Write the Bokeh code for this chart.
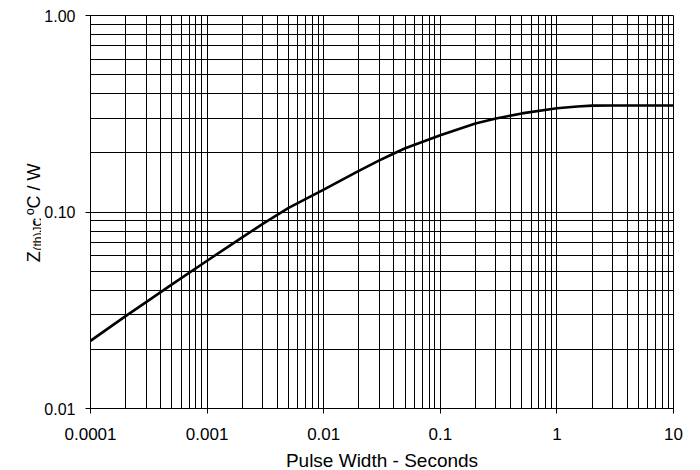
import math
from bokeh.plotting import figure
from bokeh.layouts import row
from bokeh.models import FixedTicker, Label, Range1d
from bokeh.embed import file_html
from bokeh.resources import INLINE

# Data
pulse_width = [1e-4, 2e-4, 3e-4, 5e-4, 1e-3, 2e-3, 3e-3, 5e-3, 1e-2, 2e-2, 3e-2,
               4e-2, 5e-2, 0.1, 0.2, 0.3, 0.5, 1.0, 1.5, 2.0, 3.0, 10.0]
zth_jc = [0.0221, 0.0295, 0.0348, 0.0428, 0.0565, 0.0743, 0.0870, 0.1050, 0.1300, 0.1620, 0.1830,
          0.1985, 0.2110, 0.2460, 0.2820, 0.2990, 0.3175, 0.3370, 0.3445, 0.3480, 0.3485, 0.3485]

x_major = [1e-4, 1e-3, 1e-2, 1e-1, 1.0, 10.0]
x_major_labels = ["0.0001", "0.001", "0.01", "0.1", "1", "10"]
y_major = [0.01, 0.1, 1.0]
y_major_labels = ["0.01", "0.10", "1.00"]

x_minor = [m * d for d in x_major[:-1] for m in range(2, 10)]
y_minor = [m * d for d in y_major[:-1] for m in range(2, 10)]

FONT = "Liberation Sans"
BORDER_TOP = 15
BORDER_BOTTOM = 57
FRAME_H = 393
TITLE_W = 41

p = figure(x_axis_type="log", y_axis_type="log",
           x_range=(1e-4, 10), y_range=(0.01, 1.0),
           frame_width=583, frame_height=FRAME_H,
           min_border_left=47, min_border_right=20,
           min_border_top=BORDER_TOP, min_border_bottom=BORDER_BOTTOM,
           output_backend="svg", toolbar_location=None)

p.background_fill_color = "white"
p.border_fill_color = "white"
p.outline_line_color = "black"
p.outline_line_width = 1

p.xaxis.ticker = FixedTicker(ticks=x_major, minor_ticks=x_minor)
p.yaxis.ticker = FixedTicker(ticks=y_major, minor_ticks=y_minor)
p.xaxis.major_label_overrides = {v: s for v, s in zip(x_major, x_major_labels)}
p.yaxis.major_label_overrides = {v: s for v, s in zip(y_major, y_major_labels)}

for ax in (p.xaxis, p.yaxis):
    ax.axis_line_color = "black"
    ax.major_tick_line_color = "black"
    ax.major_tick_in = 0
    ax.major_tick_out = 5
    ax.minor_tick_line_color = None
    ax.major_label_text_font = FONT
    ax.major_label_text_color = "black"

p.xaxis.major_label_text_font_size = "17px"
p.yaxis.major_label_text_font_size = "16px"
p.xaxis.major_label_standoff = 14
p.yaxis.major_label_standoff = 10

p.xaxis.axis_label = "Pulse Width - Seconds"
p.xaxis.axis_label_text_font = FONT
p.xaxis.axis_label_text_font_size = "19px"
p.xaxis.axis_label_text_font_style = "normal"
p.xaxis.axis_label_text_color = "black"
p.xaxis.axis_label_standoff = 7

for g in (p.xgrid, p.ygrid):
    g.grid_line_color = "black"
    g.grid_line_width = 1
    g.minor_grid_line_color = "black"
    g.minor_grid_line_width = 1

p.line(pulse_width, zth_jc, line_color="black", line_width=2.6)

# Y-axis title with subscript: a narrow companion figure (no axes) with the same
# vertical borders as the chart, whose coordinates are page pixels
# (x from the left, y from the top), holding rotated labels.
t = figure(frame_width=TITLE_W, frame_height=FRAME_H,
           x_range=Range1d(0, TITLE_W),
           y_range=Range1d(BORDER_TOP + FRAME_H, BORDER_TOP),
           x_axis_location=None, y_axis_location=None,
           min_border_left=0, min_border_right=0,
           min_border_top=BORDER_TOP, min_border_bottom=BORDER_BOTTOM,
           output_backend="svg", toolbar_location=None)
t.grid.visible = False
t.outline_line_color = None
t.background_fill_color = "white"
t.border_fill_color = "white"

angle = math.pi / 2
common = dict(angle=angle, text_font=FONT, text_color="black",
              text_align="left", text_baseline="alphabetic")
t.add_layout(Label(text="Z", x=33.3, y=261.7, text_font_size="18px", **common))
t.add_layout(Label(text="(th)JC", x=37.0, y=250.0, text_font_size="12px", **common))
t.add_layout(Label(text=" - ºC / W", x=33.3, y=225.5, text_font_size="18px", **common))

layout = row(t, p)
open("out.html", "w").write(file_html(layout, INLINE))
